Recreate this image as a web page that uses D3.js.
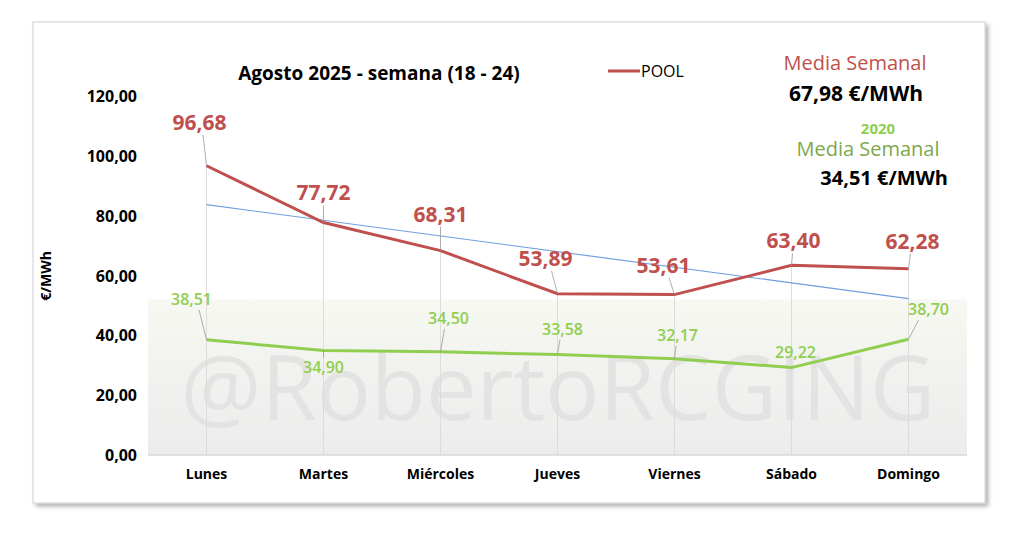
<!DOCTYPE html>
<html><head><meta charset="utf-8">
<script src="https://cdn.jsdelivr.net/npm/d3@7"></script>
<style>body{margin:0;background:#fff}text{font-family:"Open Sans",Lato,sans-serif}</style>
</head><body><svg id="c" width="1024" height="537"></svg>
<script>
var days = ["Lunes","Martes","Miércoles","Jueves","Viernes","Sábado","Domingo"];
var pool = [96.68,77.72,68.31,53.89,53.61,63.40,62.28];
var pool2020 = [38.51,34.90,34.50,33.58,32.17,29.22,38.70];
var yTicks = [0,20,40,60,80,100,120];
// label offsets (dx, dy) from each point
var poolOff = [[-7,-36],[0,-22],[0,-29],[-12,-28],[-11,-22],[2,-17],[4,-20]];
var greenOff = [[-15,-35],[0,22],[8,-28],[5,-20],[3,-18],[4,-10],[20,-24]];

var svg = d3.select("#c");
var fmt = function (v) { return d3.format(".2f")(v).replace(".", ","); };

var defs = svg.append("defs");
var f = defs.append("filter").attr("id","sh").attr("x","-5%").attr("y","-5%").attr("width","110%").attr("height","115%");
f.append("feDropShadow").attr("dx",3).attr("dy",3).attr("stdDeviation",2).attr("flood-color","#000").attr("flood-opacity",0.3);
var g1 = defs.append("linearGradient").attr("id","bg").attr("x1",0).attr("y1",0).attr("x2",0).attr("y2",1);
g1.append("stop").attr("offset","0%").attr("stop-color","#f6f8f1");
g1.append("stop").attr("offset","100%").attr("stop-color","#ececec");

svg.append("rect").attr("x",33).attr("y",22).attr("width",952).attr("height",481)
    .style("fill","#fff").style("stroke","#d0d0d0").attr("filter","url(#sh)");

var x = d3.scaleBand().domain(days).range([148, 967]);
var y = d3.scaleLinear().domain([0,120]).range([455, 96]);
var cx = function (i) { return x(days[i]) + x.bandwidth()/2; };

// shaded band
svg.append("rect").attr("x",148).attr("y",y(52)).attr("width",819).attr("height",y(0)-y(52)).style("fill","url(#bg)");
svg.append("line").attr("x1",148).attr("x2",967).attr("y1",y(0)).attr("y2",y(0)).style("stroke","#d9d9d9").style("stroke-width",1.5);

// watermark
svg.append("text").attr("x",558).attr("y",420).attr("text-anchor","middle")
    .style("font-size","90px").style("fill","#e3e3e3").style("font-weight",400).text("@RobertoRCGING");

// drop lines
pool.forEach(function (v, i) {
    svg.append("line").attr("x1",cx(i)).attr("x2",cx(i)).attr("y1",y(v)).attr("y2",y(0))
        .style("stroke","#dcdcdc").style("stroke-width",1);
});

// y axis
yTicks.forEach(function (t) {
    svg.append("text").attr("x",137).attr("y",y(t)+6).attr("text-anchor","end")
        .style("font-size","16px").style("font-weight",700).text(fmt(t));
});
svg.append("text").attr("transform","translate(51,276) rotate(-90)").attr("text-anchor","middle")
    .style("font-size","14px").style("font-weight",700).text("€/MWh");
days.forEach(function (d, i) {
    svg.append("text").attr("x",cx(i)).attr("y",479).attr("text-anchor","middle")
        .style("font-size","14px").style("font-weight",700).text(d);
});

// trend line (linear regression of pool)
var n = pool.length, mx = (n-1)/2, my = d3.mean(pool);
var slope = d3.sum(pool, function (v, i) { return (i-mx)*(v-my); }) / d3.sum(pool, function (v, i) { return (i-mx)*(i-mx); });
svg.append("line").attr("x1",cx(0)).attr("x2",cx(n-1))
    .attr("y1",y(my - slope*mx)).attr("y2",y(my + slope*mx))
    .style("stroke","#6f9fe0").style("stroke-width",1.2);

var line = d3.line().x(function (d, i) { return cx(i); }).y(function (d) { return y(d); });
svg.append("path").attr("d",line(pool2020)).style("fill","none").style("stroke","#8fce4f").style("stroke-width",3);
svg.append("path").attr("d",line(pool)).style("fill","none").style("stroke","#bf504d").style("stroke-width",3);

function labels(data, off, col, size, weight) {
    data.forEach(function (v, i) {
        var px = cx(i), py = y(v), lx = px + off[i][0], ly = py + off[i][1];
        if (Math.abs(off[i][1]) > 12) {
            var ey = off[i][1] < 0 ? ly + 5 : ly - 15;
            svg.append("line").attr("x1",px).attr("y1",py).attr("x2",lx*0.5+px*0.5).attr("y2",ey)
                .style("stroke","#999").style("stroke-width",0.8);
        }
        svg.append("text").attr("x",lx).attr("y",ly).attr("text-anchor","middle")
            .style("font-size",size).style("font-weight",weight).style("fill",col).text(fmt(v));
    });
}
labels(pool, poolOff, "#bf504d", "21px", 700);
labels(pool2020, greenOff, "#8fce4f", "16px", 600);

// title and legend
svg.append("text").attr("x",379).attr("y",80).attr("text-anchor","middle")
    .style("font-size","19px").style("font-weight",700).text("Agosto 2025 - semana (18 - 24)");
svg.append("line").attr("x1",608).attr("x2",640).attr("y1",71).attr("y2",71).style("stroke","#bf504d").style("stroke-width",3);
svg.append("text").attr("x",641).attr("y",77).style("font-size","16px").text("POOL");

svg.append("text").attr("x",855).attr("y",70).attr("text-anchor","middle").style("font-size","20px").style("fill","#bf504d").text("Media Semanal");
svg.append("text").attr("x",856).attr("y",101).attr("text-anchor","middle").style("font-size","21px").style("font-weight",700).text("67,98 €/MWh");
svg.append("text").attr("x",878).attr("y",134).attr("text-anchor","middle").style("font-size","15px").style("font-weight",700).style("fill","#8fce4f").text("2020");
svg.append("text").attr("x",868).attr("y",156).attr("text-anchor","middle").style("font-size","20px").style("fill","#7ea84a").text("Media Semanal");
svg.append("text").attr("x",948).attr("y",185).attr("text-anchor","end").style("font-size","20px").style("font-weight",700).text("34,51 €/MWh");
</script></body></html>
